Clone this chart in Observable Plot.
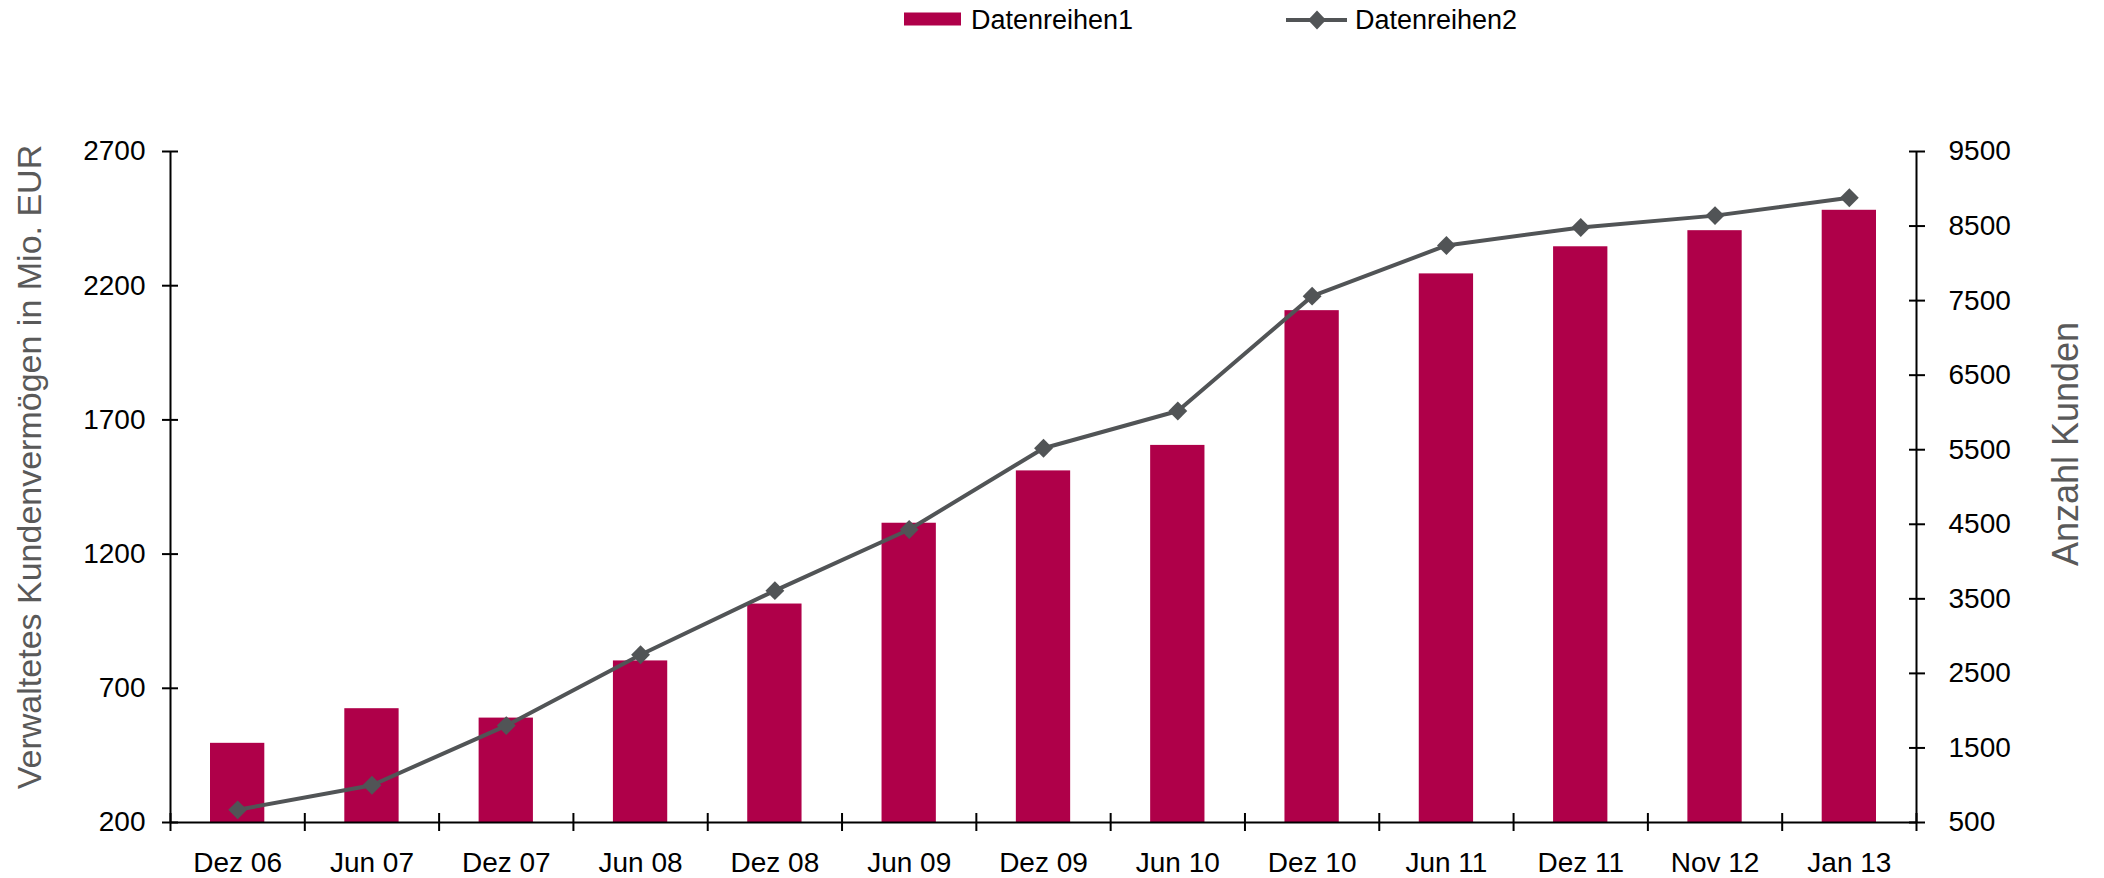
<!DOCTYPE html>
<html><head><meta charset="utf-8">
<script src="https://cdn.jsdelivr.net/npm/d3@7"></script>
<script src="https://cdn.jsdelivr.net/npm/@observablehq/plot@0.6"></script>
<style>
body{margin:0;background:#fff;font-family:"Liberation Sans",Arial,sans-serif;}
#legend{position:relative;height:40px;width:2104px;font-size:27px;color:#000;}
#legend .it{position:absolute;top:0;height:40px;display:flex;align-items:center;}
</style></head><body>
<div id="legend"></div>
<div id="chart"></div>
<script>
const categories = ["Dez 06","Jun 07","Dez 07","Jun 08","Dez 08","Jun 09","Dez 09","Jun 10","Dez 10","Jun 11","Dez 11","Nov 12","Jan 13"];
const assets = [495, 624, 589, 802, 1014, 1315, 1510, 1605, 2107, 2244, 2345, 2405, 2481];
const clients = [670, 1000, 1800, 2750, 3610, 4430, 5520, 6020, 7560, 8240, 8480, 8640, 8880];
const leftTicks = [200, 700, 1200, 1700, 2200, 2700];
const rightTicks = [500, 1500, 2500, 3500, 4500, 5500, 6500, 7500, 8500, 9500];
const seriesNames = ["Datenreihen1", "Datenreihen2"];
const leftTitle = "Verwaltetes Kundenvermögen in Mio. EUR";
const rightTitle = "Anzahl Kunden";

const barColor = "#AF0049";
const lineColor = "#515456";

const L0 = leftTicks[0], L1 = leftTicks[leftTicks.length-1];
const R0 = rightTicks[0], R1 = rightTicks[rightTicks.length-1];
const toLeft = v => L0 + (v - R0) * (L1 - L0) / (R1 - R0);
const fromLeft = v => R0 + (v - L0) * (R1 - R0) / (L1 - L0);

const rows = categories.map((c, i) => ({c, i, a: assets[i], k: toLeft(clients[i])}));

// legend
const lg = document.getElementById("legend");
lg.innerHTML = `
<div class="it" style="left:904px"><svg width="57" height="40"><rect x="0" y="12.5" width="57" height="13" fill="${barColor}"/></svg><span style="margin-left:10px">${seriesNames[0]}</span></div>
<div class="it" style="left:1286px"><svg width="61" height="40"><line x1="0" x2="61" y1="20" y2="20" stroke="${lineColor}" stroke-width="4"/><path d="M31,10.5L40,20L31,29.5L22,20Z" fill="${lineColor}"/></svg><span style="margin-left:8px">${seriesNames[1]}</span></div>`;

const font = "Liberation Sans, Arial, sans-serif";
const chart = Plot.plot({
  width: 2104, height: 838,
  marginTop: 111, marginBottom: 56, marginLeft: 170, marginRight: 188,
  x: {type: "linear", domain: [0, categories.length]},
  y: {domain: [L0, L1]},
  style: {fontFamily: font, fontSize: "27px", color: "#000", background: "#fff"},
  marks: [
    Plot.rect(rows, {x1: "i", x2: d => d.i + 1, y1: L0, y2: "a", fill: barColor, insetLeft: 40, insetRight: 40}),
    Plot.line(rows, {x: d => d.i + 0.5, y: "k", stroke: lineColor, strokeWidth: 4}),
    Plot.dot(rows, {x: d => d.i + 0.5, y: "k", symbol: "diamond2", r: 8.5, fill: lineColor, stroke: null}),
    Plot.ruleY([L0], {stroke: "#000", strokeWidth: 2}),
    Plot.ruleX([0, categories.length], {stroke: "#000", strokeWidth: 2}),
    Plot.axisY({ticks: leftTicks, tickSize: 16, dx: 8, tickFormat: () => "", label: null, stroke: "#000", strokeWidth: 2}),
    Plot.axisY({ticks: leftTicks, tickSize: 0, tickPadding: 25, tickFormat: v => String(v), label: null, fontSize: 28}),
    Plot.axisY({anchor: "right", ticks: rightTicks.map(toLeft), tickSize: 16, dx: -8, tickFormat: () => "", label: null, stroke: "#000", strokeWidth: 2}),
    Plot.axisY({anchor: "right", ticks: rightTicks.map(toLeft), tickSize: 0, tickPadding: 32, tickFormat: v => String(Math.round(fromLeft(v))), label: null, fontSize: 28}),
    Plot.axisX({ticks: d3.range(categories.length + 1), tickSize: 18, dy: -9, tickFormat: () => "", label: null, stroke: "#000", strokeWidth: 2}),
    Plot.axisX({ticks: categories.map((c, i) => i + 0.5), tickSize: 0, tickPadding: 30, tickFormat: v => categories[Math.floor(v)], label: null, fontSize: 28}),
    Plot.text([leftTitle], {frameAnchor: "left", textAnchor: "middle", rotate: -90, dx: -140, dy: -20, fontSize: 34, fill: "#595959"}),
    Plot.text([rightTitle], {frameAnchor: "right", textAnchor: "middle", rotate: -90, dx: 150, dy: -43, fontSize: 36, fill: "#595959"})
  ]
});
document.getElementById("chart").appendChild(chart);
</script>
</body></html>
